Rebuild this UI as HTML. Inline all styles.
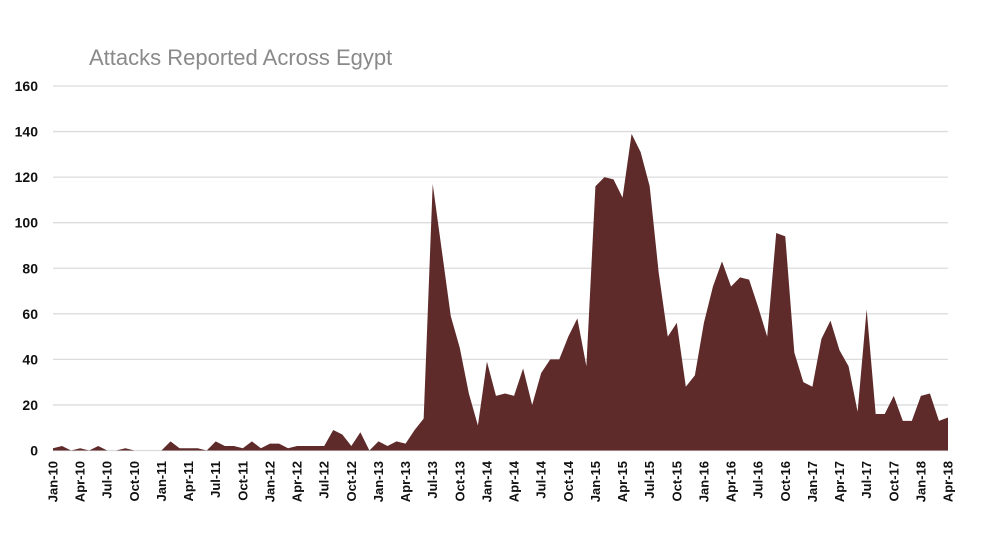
<!DOCTYPE html>
<html><head><meta charset="utf-8"><style>
html,body{margin:0;padding:0;background:#fff;}
svg{display:block;}
.t{font-family:"Liberation Sans",sans-serif;font-size:22px;fill:#8a8a8a;}
.y{font-family:"Liberation Sans Narrow","Liberation Sans",sans-serif;font-weight:bold;font-size:14px;fill:#111;}
.x{font-family:"Liberation Sans Narrow","Liberation Sans",sans-serif;font-weight:bold;font-size:13px;fill:#111;}
</style></head><body>
<svg id="c" width="998" height="557" xmlns="http://www.w3.org/2000/svg">
<text class="t" x="89" y="65">Attacks Reported Across Egypt</text>
<g id="grid"></g>
<path id="area" fill="#5e2a2a" d=""/>
<g id="xl"></g>
</svg>
<script>
var d=[1,2,0,1,0,2,0,0,1,0,0,0,0,4,1,1,1,0,4,2,2,1,4,1,3,3,1,2,2,2,2,9,7,2,8,0,4,2,4,3,9,14,117,88,59,45,25,11,39,24,25,24,36,20,34,40,40,50,58,37,116,120,119,111,139,131,116,78,50,56,28,33,56,72,83,72,76,75,63,50,95.5,94,43,30,28,49,57,44,37,17,62,16,16,24,13,13,24,25,13,14.5];
var x0=53,dx=(948-53)/99,y0=450.5,sy=(450.5-86)/160,ns="http://www.w3.org/2000/svg";
var g=document.getElementById('grid');
for(var v=0;v<=160;v+=20){var y=y0-v*sy;
var l=document.createElementNS(ns,'line');l.setAttribute('x1',53);l.setAttribute('x2',948);l.setAttribute('y1',y);l.setAttribute('y2',y);l.setAttribute('stroke','#dcdcdc');l.setAttribute('stroke-width','1.3');g.appendChild(l);
var t=document.createElementNS(ns,'text');t.setAttribute('class','y');t.setAttribute('x',38);t.setAttribute('y',y+5);t.setAttribute('text-anchor','end');t.textContent=v;g.appendChild(t);}
var p='M'+x0+','+y0;
for(var i=0;i<d.length;i++)p+=' L'+(x0+i*dx).toFixed(2)+','+(y0-d[i]*sy).toFixed(2);
p+=' L'+(x0+99*dx)+','+y0+' Z';
document.getElementById('area').setAttribute('d',p);
var m=['Jan','Apr','Jul','Oct'],xl=document.getElementById('xl');
for(var k=0;k<=33;k++){var yr=10+Math.floor(k/4),x=x0+k*3*dx+4.5;
var t=document.createElementNS(ns,'text');t.setAttribute('class','x');t.setAttribute('text-anchor','end');
t.setAttribute('transform','translate('+x+',461) rotate(-90)');t.textContent=m[k%4]+'-'+yr;xl.appendChild(t);}
</script>
</body></html>
